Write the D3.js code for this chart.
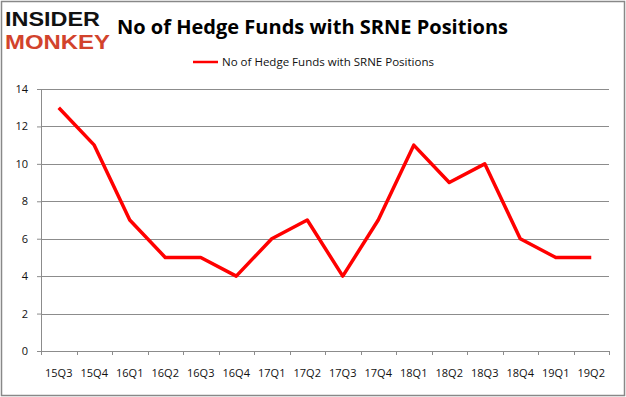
<!DOCTYPE html>
<html>
<head>
<meta charset="utf-8">
<script src="https://cdnjs.cloudflare.com/ajax/libs/d3/7.8.5/d3.min.js"></script>
<style>
  body { margin: 0; background: #fff; }
  text { font-family: "Open Sans", "DejaVu Sans", sans-serif; }
</style>
</head>
<body>
<div id="chart"></div>
<script>
var quarters = ["15Q3", "15Q4", "16Q1", "16Q2", "16Q3", "16Q4", "17Q1", "17Q2",
                "17Q3", "17Q4", "18Q1", "18Q2", "18Q3", "18Q4", "19Q1", "19Q2"];
var funds = [13, 11, 7, 5, 5, 4, 6, 7, 4, 7, 11, 9, 10, 6, 5, 5];
var yTicks = [0, 2, 4, 6, 8, 10, 12, 14];
var seriesName = "No of Hedge Funds with SRNE Positions";

var W = 626, H = 397;
var margin = { top: 89, right: 17, bottom: 46, left: 41 };
var width = W - margin.left - margin.right,
    height = H - margin.top - margin.bottom;

var svg = d3.select("#chart")
    .append("svg")
    .attr("width", W)
    .attr("height", H);

// outer frame
svg.append("rect")
    .attr("x", 1.5).attr("y", 1.5)
    .attr("width", W - 3).attr("height", H - 3)
    .attr("fill", "#fff")
    .attr("stroke", "#888")
    .attr("stroke-width", 1.5);

// logo
svg.append("text")
    .attr("x", 5).attr("y", 26)
    .style("font-family", "'Liberation Sans', sans-serif")
    .style("font-weight", "bold")
    .style("font-size", "20px")
    .attr("textLength", 95)
    .attr("lengthAdjust", "spacingAndGlyphs")
    .attr("fill", "#111")
    .text("INSIDER");
svg.append("text")
    .attr("x", 5).attr("y", 49)
    .style("font-family", "'Liberation Sans', sans-serif")
    .style("font-weight", "bold")
    .style("font-size", "20px")
    .attr("textLength", 105)
    .attr("lengthAdjust", "spacingAndGlyphs")
    .attr("fill", "#d2432c")
    .text("MONKEY");

// title
svg.append("text")
    .attr("x", 117).attr("y", 34)
    .style("font-weight", "bold")
    .style("font-size", "20px")
    .attr("textLength", 391)
    .attr("lengthAdjust", "spacingAndGlyphs")
    .attr("fill", "#000")
    .text(seriesName);

// legend
svg.append("line")
    .attr("x1", 193).attr("x2", 218)
    .attr("y1", 62).attr("y2", 62)
    .attr("stroke", "#ff0000")
    .attr("stroke-width", 2.5);
svg.append("text")
    .attr("x", 222).attr("y", 66)
    .style("font-size", "11.5px")
    .attr("textLength", 212)
    .attr("lengthAdjust", "spacingAndGlyphs")
    .attr("fill", "#111")
    .text(seriesName);

var g = svg.append("g")
    .attr("transform", "translate(" + margin.left + "," + margin.top + ")");

var x = d3.scaleBand()
    .domain(quarters)
    .range([0, width]);

var y = d3.scaleLinear()
    .domain([0, 14])
    .range([height, 0]);

// gridlines
g.selectAll(".grid")
    .data(yTicks.filter(function(d) { return d > 0; }))
    .enter()
    .append("line")
    .attr("class", "grid")
    .attr("x1", 0).attr("x2", width)
    .attr("y1", function(d) { return Math.round(y(d)) + 0.5; })
    .attr("y2", function(d) { return Math.round(y(d)) + 0.5; })
    .attr("stroke", "#8c8c8c")
    .attr("stroke-width", 1);

// y axis
var yAxis = g.append("g")
    .call(d3.axisLeft(y).tickValues(yTicks).tickSize(4).tickPadding(9));
yAxis.select(".domain").attr("stroke", "#8c8c8c");
yAxis.selectAll(".tick line").attr("stroke", "#8c8c8c");
yAxis.selectAll("text")
    .style("font-size", "11px")
    .style("font-family", "'Open Sans', sans-serif")
    .attr("fill", "#111");

// x axis
var xAxis = g.append("g")
    .attr("transform", "translate(0," + height + ")")
    .call(d3.axisBottom(x).tickSize(0).tickPadding(18));
xAxis.select(".domain").attr("stroke", "#8c8c8c");
xAxis.selectAll("text")
    .style("font-size", "11px")
    .style("font-family", "'Open Sans', sans-serif")
    .attr("fill", "#111");

// x tick marks at band boundaries
var bounds = quarters.map(function(q) { return x(q); }).concat([width]);
g.selectAll(".xtick")
    .data(bounds)
    .enter()
    .append("line")
    .attr("class", "xtick")
    .attr("x1", function(d) { return Math.round(d) + 0.5; })
    .attr("x2", function(d) { return Math.round(d) + 0.5; })
    .attr("y1", height)
    .attr("y2", height + 4)
    .attr("stroke", "#8c8c8c");

// series line
var line = d3.line()
    .x(function(d, i) { return x(quarters[i]) + x.bandwidth() / 2; })
    .y(function(d) { return y(d); });

g.append("path")
    .datum(funds)
    .attr("d", line)
    .attr("fill", "none")
    .attr("stroke", "#ff0000")
    .attr("stroke-width", 3.5)
    .attr("stroke-linejoin", "round");
</script>
</body>
</html>
